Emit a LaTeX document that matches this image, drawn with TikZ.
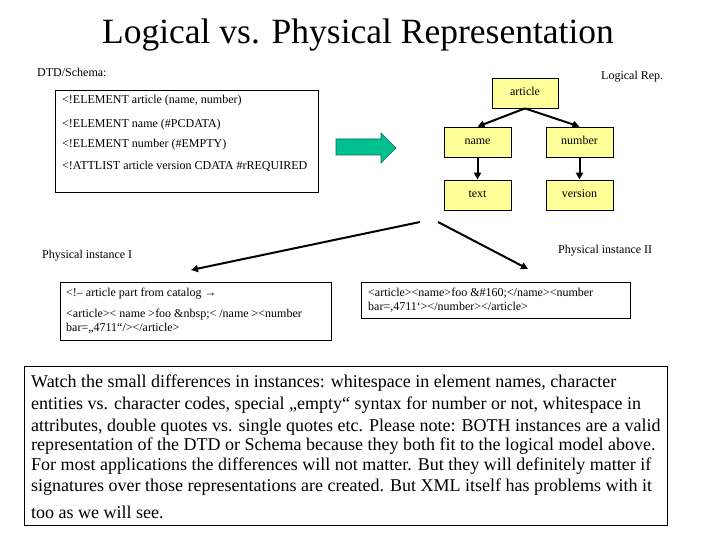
\documentclass[tikz,border=0pt]{standalone}
\usepackage{fontspec}
\setmainfont{Liberation Serif}
\usetikzlibrary{arrows.meta}
\definecolor{boxyellow}{RGB}{255,255,153}
\definecolor{arrowgreen}{RGB}{0,192,144}
\definecolor{arrowedge}{RGB}{0,110,85}
\tikzset{
  small/.style={font=\fontsize{12}{14}\selectfont, inner sep=0pt, anchor=west},
  lbox/.style={draw=black, fill=boxyellow, line width=0.8pt, minimum width=67pt, minimum height=30pt, inner sep=0pt, text height=8pt, text depth=2pt, font=\fontsize{12}{14}\selectfont},
  tarrow/.style={line width=2pt, -{Triangle[length=7pt,width=7pt]}},
  plainbox/.style={draw=black, line width=0.8pt, anchor=north west, inner sep=0pt},
  body/.style={font=\fontsize{18}{20}\selectfont, inner sep=0pt, anchor=west}
}
\begin{document}
\begin{tikzpicture}[x=1pt,y=-1pt]
\useasboundingbox (0,0) rectangle (720,540);
% title
\node[font=\fontsize{35.5}{40}\selectfont, inner sep=0pt] (title) at (358,35) {Logical vs. Physical Representation};
% DTD
\node[small] (dtdlabel) at (37,72) {DTD/Schema:};
\node[plainbox, minimum width=263pt, minimum height=102pt] (dtd) at (55,90) {};
\node[small] (d1) at (62,101) {<!ELEMENT article (name, number)};
\node[small] (d2) at (62,125) {<!ELEMENT name (\#PCDATA)};
\node[small] (d3) at (62,145) {<!ELEMENT number (\#EMPTY)};
\node[small] (d4) at (62,166) {<!ATTLIST article version CDATA \#rREQUIRED};
% green arrow
\filldraw[fill=arrowgreen, draw=arrowedge, line width=0.6pt]
  (336,139) -- (381,139) -- (381,133) -- (396,148) -- (381,163) -- (381,155) -- (336,155) -- cycle;
% logical rep
\node[small] (loglabel) at (601,77) {Logical Rep.};
\node[lbox, minimum width=66pt] (article) at (525,93) {article};
\node[lbox] (name) at (477.5,142) {name};
\node[lbox] (number) at (579.5,142) {number};
\node[lbox] (text) at (477.5,195) {text};
\node[lbox] (version) at (579.5,195) {version};
\draw[tarrow] (article.south) -- (name.north);
\draw[tarrow] (article.south) -- (number.north);
\draw[tarrow] (name.south) -- (text.north);
\draw[tarrow] (number.south) -- (version.north);
% physical arrows
\coordinate (s1) at (420,222);
\coordinate (e1) at (191,270);
\coordinate (s2) at (438,222);
\coordinate (e2) at (528,269);
\draw[tarrow] (s1) -- (e1);
\draw[tarrow] (s2) -- (e2);
% physical instance I
\node[small] (p1label) at (42,256) {Physical instance I};
\node[plainbox, minimum width=271pt, minimum height=58pt] (p1) at (60,282) {};
\node[small] (p1a) at (66,294) {<!– article part from catalog →};
\node[small] (p1b) at (66,315) {<article>< name >foo \&nbsp;< /name ><number};
\node[small] (p1c) at (66,328) {bar=„4711“/></article>};
% physical instance II
\node[small] (p2label) at (558,251) {Physical instance II};
\node[plainbox, minimum width=269pt, minimum height=36pt] (p2) at (361,282) {};
\node[small] (p2a) at (368,293) {<article><name>foo \&\#160;</name><number};
\node[small] (p2b) at (368,307) {bar=,4711‘></number></article>};
% bottom box
\node[plainbox, minimum width=643pt, minimum height=159pt] (note) at (24,366) {};
\node[body] (n1) at (31,383) {Watch the small differences in instances: whitespace in element names, character};
\node[body] (n2) at (31,405) {entities vs. character codes, special „empty“ syntax for number or not, whitespace in};
\node[body] (n3) at (31,427) {attributes, double quotes vs. single quotes etc. Please note: BOTH instances are a valid};
\node[body] (n4) at (31,446) {representation of the DTD or Schema because they both fit to the logical model above.};
\node[body] (n5) at (31,466) {For most applications the differences will not matter. But they will definitely matter if};
\node[body] (n6) at (31,487) {signatures over those representations are created. But XML itself has problems with it};
\node[body] (n7) at (31,512) {too as we will see.};
\end{tikzpicture}
\end{document}
